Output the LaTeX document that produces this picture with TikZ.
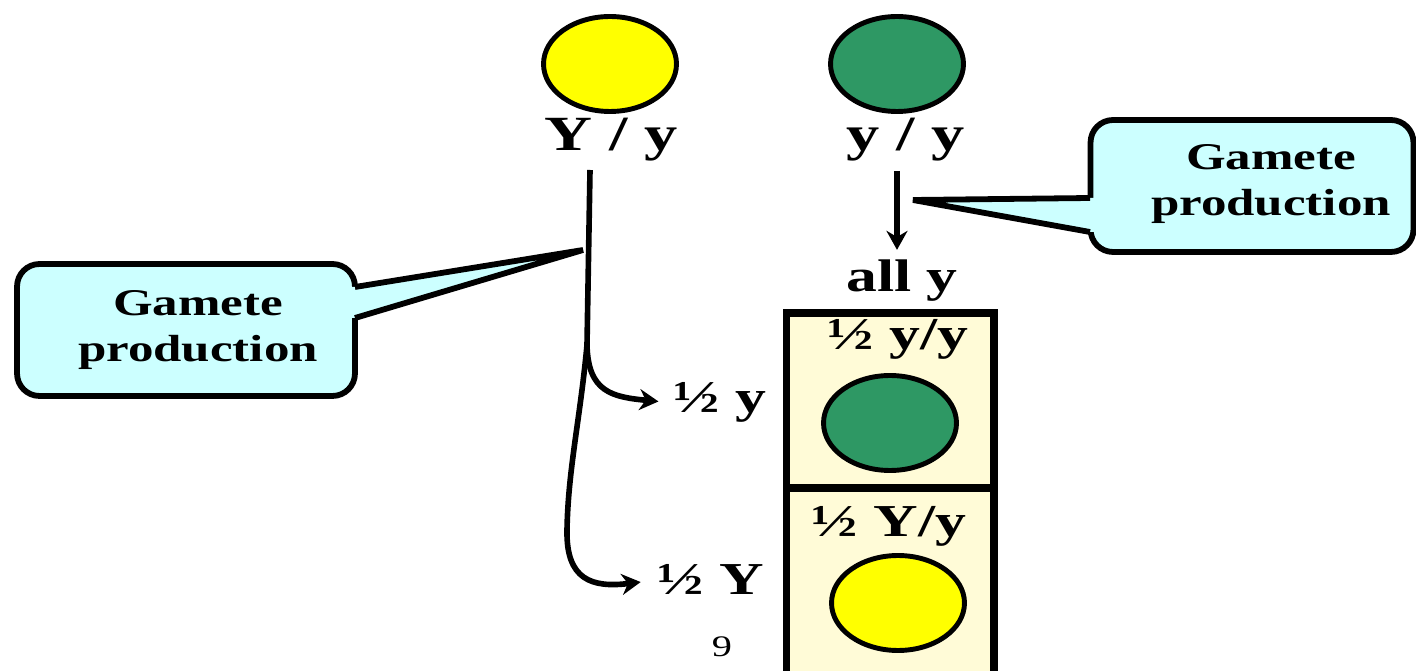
\documentclass[tikz,border=0pt]{standalone}
\usepackage{fontspec}
\setmainfont{Liberation Serif}[FakeStretch=1.35]
\usepackage{tikz}
\usepackage{xcolor}
\usetikzlibrary{shapes.geometric,arrows.meta,positioning}
\definecolor{peayellow}{RGB}{255,255,0}
\definecolor{peagreen}{RGB}{46,152,100}
\definecolor{callcyan}{RGB}{204,255,255}
\definecolor{cellcream}{RGB}{255,251,215}
\tikzset{
    pea/.style={ellipse, draw, line width=2.8pt, minimum width=2.66cm, minimum height=1.9cm},
    geno/.style={font=\bfseries\fontsize{28}{30}\selectfont, inner sep=0pt},
    gam/.style={font=\bfseries\fontsize{26}{30}\selectfont, inner sep=0pt},
    calltext/.style={font=\bfseries\fontsize{21.5}{26.7}\selectfont, align=center, inner sep=0pt},
    callbox/.style={draw, line width=3.3pt, fill=callcyan, rounded corners=0.45cm, inner sep=0pt},
    cell/.style={draw, line width=4pt, fill=cellcream, inner sep=0pt},
    flow/.style={line width=3.2pt, -{Stealth[length=0.38cm,width=0.42cm]}},
}

\begin{document}
\begin{tikzpicture}[x=0.02cm,y=-0.02cm]
    \useasboundingbox (0,0) rectangle (1416,671);
    \clip (0,0) rectangle (1416,671);

    \node[pea, fill=peayellow] (ypar) at (610,64) {};
    \node[pea, fill=peagreen] (gpar) at (897,64) {};
    \node[geno] (ygeno) at (611,140) {Y / y};
    \node[geno] (ggeno) at (906,140) {y / y};
    \node[gam] (ally) at (902,281) {all y};

    \node[cell, minimum width=4.16cm, minimum height=3.5cm] (topcell) at (890,400.5) {};
    \node[cell, minimum width=4.16cm, minimum height=4.64cm] (botcell) at (890,604) {};
    \node[gam, anchor=base] (yycell) at (898,350) {½ y/y};
    \node[pea, fill=peagreen] (yyfruit) at (890,423) {};
    \node[gam, anchor=base] (Yycell) at (889,537) {½ Y/y};
    \node[pea, fill=peayellow] (Yyfruit) at (898,603) {};

    \node[gam, anchor=base] (halfy) at (720,413) {½ y};
    \node[gam, anchor=base] (halfY) at (711,595) {½ Y};
    \node[font=\fontsize{17}{18}\selectfont, inner sep=0pt] (pagenum) at (722,647) {9};

    \draw[flow] ([yshift=-0.18cm]ggeno.south -| gpar.south) -- ([yshift=0.2cm]ally.north -| gpar.south);

    \coordinate (stem) at (590,170);
    \coordinate (fork) at (587,345);
    \draw[flow, shorten >=0.3cm] (stem) -- (fork) .. controls (588,392) and (612,397) .. (halfy.west);
    \draw[flow, shorten >=0.34cm] (fork) .. controls (580,420) and (568,470) .. (567,530)
        .. controls (566,580) and (592,588) .. (halfY.west);

    % left callout
    \node[callbox, minimum width=6.76cm, minimum height=2.64cm] (lbox) at (186,330) {};
    \coordinate (ltip) at (583,250);
    \fill[callcyan] (340,287) -- (355,287) -- (ltip) -- (355,318) -- (340,318) -- cycle;
    \draw[line width=3.3pt] (355,287) -- (ltip) -- (355,318);
    \node[calltext] (ltext) at (198,330) {Gamete\\production};

    % right callout
    \node[callbox, minimum width=6.46cm, minimum height=2.64cm] (rbox) at (1252,186) {};
    \coordinate (rtip) at (913,200);
    \fill[callcyan] (1105,198) -- (1090,198) -- (rtip) -- (1090,232) -- (1105,232) -- cycle;
    \draw[line width=3.3pt] (1090,198) -- (rtip) -- (1090,232);
    \node[calltext] (rtext) at (1271,184) {Gamete\\production};
\end{tikzpicture}
\end{document}
